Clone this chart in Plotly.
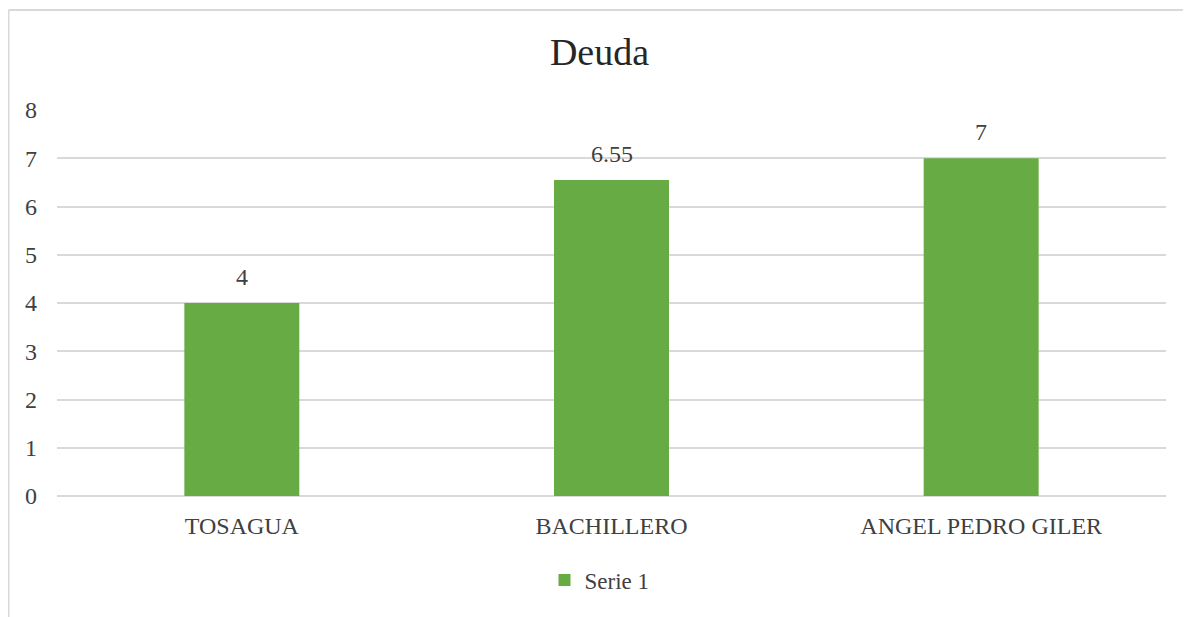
import plotly.graph_objects as go

categories = ["TOSAGUA", "BACHILLERO", "ANGEL PEDRO GILER"]
values = [4, 6.55, 7]
labels = ["4", "6.55", "7"]
y_ticks = [0, 1, 2, 3, 4, 5, 6, 7, 8]

# page has an 8px body margin, so the figure is sized/positioned to compensate
W, H = 1183, 609
ml, mr, mt, mb = 49, 25, 102, 121
pw, ph = W - ml - mr, H - mt - mb

FONT = "Liberation Serif, Times New Roman, DejaVu Serif, serif"
green = "#66AB43"
txt = "#404040"

fig = go.Figure()
fig.add_trace(go.Bar(
    x=categories, y=values, name="Serie 1",
    marker=dict(color=green, line=dict(width=0)),
    showlegend=True,
))

for c, v, l in zip(categories, values, labels):
    fig.add_annotation(x=c, y=v, text=l, showarrow=False, yanchor="bottom",
                       yshift=11, font=dict(family=FONT, size=24, color=txt))

# outer border (left and top)
bx = (0.5 - ml) / pw
by_top = (H - mb - 2) / ph
by_bot = (H - mb - H) / ph
bx_r = (W - ml) / pw
fig.add_shape(type="line", xref="paper", yref="paper", x0=bx, x1=bx, y0=by_bot, y1=by_top,
              line=dict(color="#d9d9d9", width=2))
fig.add_shape(type="line", xref="paper", yref="paper", x0=bx, x1=bx_r, y0=by_top, y1=by_top,
              line=dict(color="#d9d9d9", width=2))

fig.update_layout(
    width=W, height=H,
    margin=dict(l=ml, r=mr, t=mt, b=mb),
    paper_bgcolor="white", plot_bgcolor="white",
    bargap=0.689,
    title=dict(text="Deuda", x=0.5, xanchor="center", y=1 - 44 / H, yanchor="middle",
               font=dict(family=FONT, size=38, color="#262626")),
    font=dict(family=FONT, size=24, color=txt),
    xaxis=dict(showgrid=False, showline=False, ticks="", ticklabelstandoff=13,
               tickfont=dict(family=FONT, size=24, color=txt)),
    yaxis=dict(range=[0, 8], tickvals=y_ticks, showgrid=True, gridcolor="#d9d9d9",
               gridwidth=1.5, zeroline=True, zerolinecolor="#d9d9d9", zerolinewidth=1.5,
               showline=False, ticks="", ticklabelstandoff=19,
               tickfont=dict(family=FONT, size=24, color=txt)),
    legend=dict(orientation="h", x=0.5 - 12 / pw, xanchor="center", y=-(572 - (H - mb)) / ph,
                yanchor="middle", itemwidth=30,
                font=dict(family=FONT, size=23, color=txt)),
)

fig.write_html("out.html")
